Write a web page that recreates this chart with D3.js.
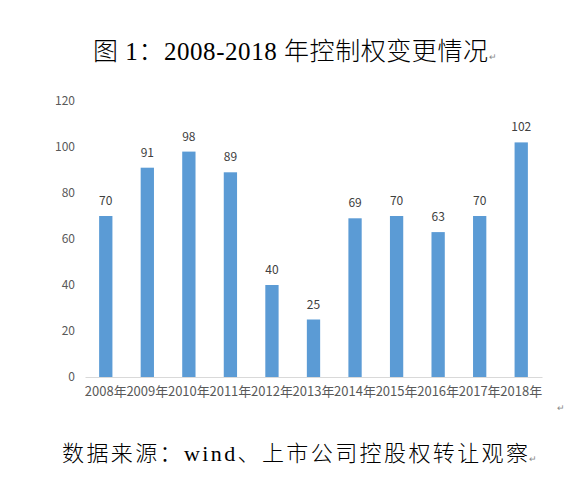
<!DOCTYPE html>
<html>
<head>
<meta charset="utf-8">
<script src="https://cdn.jsdelivr.net/npm/d3@7"></script>
<style>
  body { margin: 0; background: #fff; }
</style>
</head>
<body>
<div id="root"></div>
<script>
const years = ["2008年", "2009年", "2010年", "2011年", "2012年", "2013年",
  "2014年", "2015年", "2016年", "2017年", "2018年"];
const counts = [70, 91, 98, 89, 40, 25, 69, 70, 63, 70, 102];
const yTicks = [0, 20, 40, 60, 80, 100, 120];

const width = 579;
const height = 481;
const plotLeft = 85, plotRight = 542, plotTop = 101, plotBottom = 377;

const svg = d3.select("#root")
  .append("svg")
  .attr("width", width)
  .attr("height", height);

// title
svg.append("text")
  .attr("x", 93)
  .attr("y", 60)
  .attr("font-family", "'Liberation Serif', 'Noto Sans CJK SC'")
  .attr("font-size", 25)
  .attr("font-weight", 300)
  .attr("fill", "#000")
  .attr("textLength", 395)
  .attr("lengthAdjust", "spacing")
  .text("图 1：2008-2018 年控制权变更情况");

svg.append("text")
  .attr("x", 489)
  .attr("y", 60)
  .attr("font-size", 9)
  .attr("fill", "#888")
  .text("↵");

const xScale = d3.scaleBand()
  .domain(years)
  .range([plotLeft, plotRight])
  .paddingInner(0.68)
  .paddingOuter(0.34);

const yScale = d3.scaleLinear()
  .domain([0, 120])
  .range([plotBottom, plotTop]);

// y axis labels only (no line)
const yAxis = d3.axisLeft(yScale).tickValues(yTicks).tickSize(0).tickPadding(0);
const gy = svg.append("g")
  .attr("transform", `translate(75, 0)`)
  .call(yAxis);
gy.select(".domain").remove();
gy.selectAll("text")
  .attr("font-family", "'Noto Sans CJK SC'")
  .attr("font-size", 12)
  .attr("fill", "#595959");

// bars
svg.selectAll(".bar")
  .data(counts)
  .enter()
  .append("rect")
  .attr("class", "bar")
  .attr("x", (d, i) => xScale(years[i]))
  .attr("y", d => yScale(d))
  .attr("width", xScale.bandwidth())
  .attr("height", d => plotBottom - yScale(d))
  .attr("fill", "#5B9BD5");

// value labels
svg.selectAll(".val")
  .data(counts)
  .enter()
  .append("text")
  .attr("class", "val")
  .attr("x", (d, i) => xScale(years[i]) + xScale.bandwidth() / 2)
  .attr("y", d => yScale(d) - 11)
  .attr("text-anchor", "middle")
  .attr("font-family", "'Noto Sans CJK SC'")
  .attr("font-size", 12)
  .attr("fill", "#404040")
  .text(d => d);

// x axis
const xAxis = d3.axisBottom(xScale).tickSize(0).tickPadding(10);
const gx = svg.append("g")
  .attr("transform", `translate(0, ${plotBottom})`)
  .call(xAxis);
gx.select(".domain").attr("stroke", "#D9D9D9");
gx.selectAll("text")
  .attr("font-family", "'Noto Sans CJK SC'")
  .attr("font-size", 13)
  .attr("fill", "#595959");

svg.append("text")
  .attr("x", 557)
  .attr("y", 411)
  .attr("font-size", 9)
  .attr("fill", "#888")
  .text("↵");

// source
svg.append("text")
  .attr("x", 62)
  .attr("y", 461)
  .attr("font-family", "'Liberation Serif', 'Noto Sans CJK SC'")
  .attr("font-size", 22)
  .attr("font-weight", 300)
  .attr("fill", "#000")
  .attr("textLength", 466)
  .attr("lengthAdjust", "spacing")
  .text("数据来源：wind、上市公司控股权转让观察");

svg.append("text")
  .attr("x", 529)
  .attr("y", 462)
  .attr("font-size", 9)
  .attr("fill", "#888")
  .text("↵");
</script>
</body>
</html>
